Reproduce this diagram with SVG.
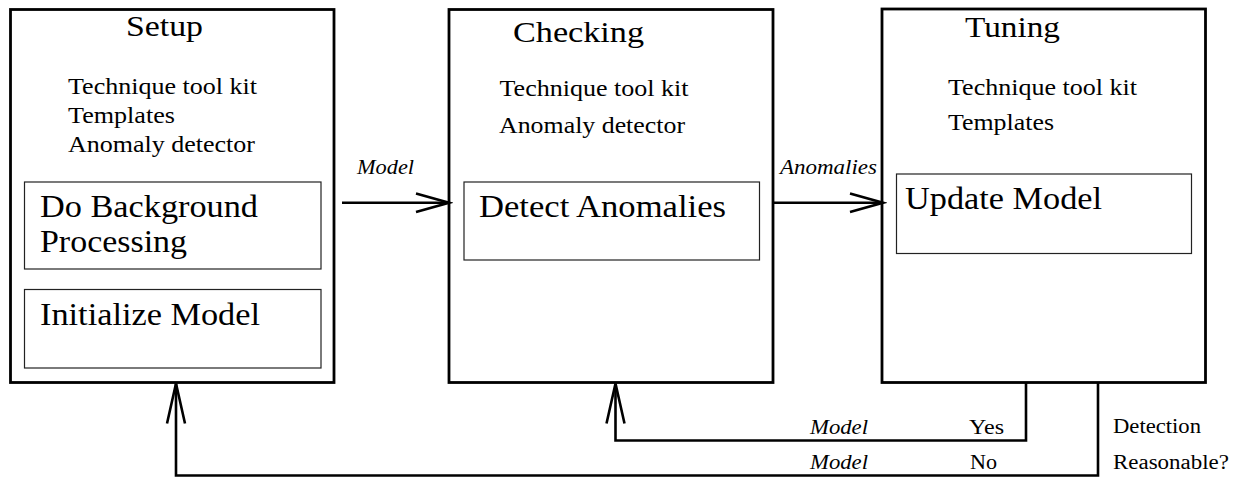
<svg xmlns="http://www.w3.org/2000/svg" width="1242" height="477" viewBox="0 0 1242 477">
  <style>
    text { font-family: 'Liberation Serif', 'Times New Roman', Times, 'DejaVu Serif', serif; fill: #000; }
    .stage { fill: #fff; stroke: #000; stroke-width: 2.8; }
    .task { fill: none; stroke: #222; stroke-width: 1.2; }
    .title { font-size: 30px; }
    .item { font-size: 23px; }
    .big { font-size: 32px; }
    .flow { font-size: 20px; font-style: italic; }
    .ans { font-size: 20px; }
    .wire { fill: none; stroke: #000; stroke-width: 2.6; }
  </style>
  <defs>
    <marker id="open-h" markerUnits="userSpaceOnUse" markerWidth="40" markerHeight="24" viewBox="-36 -12 40 24" refX="0" refY="0" orient="auto">
      <path d="M -33 -9.2 L 0 0 L -33 9.2" fill="none" stroke="#000" stroke-width="2.6"/>
    </marker>
    <marker id="open-v" markerUnits="userSpaceOnUse" markerWidth="46" markerHeight="24" viewBox="-43 -12 46 24" refX="0" refY="0" orient="auto">
      <path d="M -40 -9 L 0 0 L -40 9" fill="none" stroke="#000" stroke-width="2.6"/>
    </marker>
  </defs>

  <rect width="1242" height="477" fill="#fff"/>

  <g font-family="Liberation Serif, Times New Roman, DejaVu Serif, serif">
  <g id="setup">
    <rect class="stage" x="10.5" y="9.5" width="323.5" height="373"/>
    <text class="title" x="126" y="36" textLength="77" lengthAdjust="spacingAndGlyphs">Setup</text>
    <text class="item" x="68" y="94" textLength="189" lengthAdjust="spacingAndGlyphs">Technique tool kit</text>
    <text class="item" x="68" y="123" textLength="107" lengthAdjust="spacingAndGlyphs">Templates</text>
    <text class="item" x="68" y="152" textLength="187" lengthAdjust="spacingAndGlyphs">Anomaly detector</text>
    <rect class="task" x="24.5" y="182" width="296.5" height="87"/>
    <text class="big" x="40" y="217" textLength="218" lengthAdjust="spacingAndGlyphs">Do Background</text>
    <text class="big" x="40" y="252" textLength="147" lengthAdjust="spacingAndGlyphs">Processing</text>
    <rect class="task" x="24.5" y="289.5" width="296.5" height="78.5"/>
    <text class="big" x="40" y="325" textLength="220" lengthAdjust="spacingAndGlyphs">Initialize Model</text>
  </g>

  <g id="checking">
    <rect class="stage" x="449" y="9.5" width="324" height="373"/>
    <text class="title" x="513" y="42" textLength="131" lengthAdjust="spacingAndGlyphs">Checking</text>
    <text class="item" x="499.5" y="96" textLength="189" lengthAdjust="spacingAndGlyphs">Technique tool kit</text>
    <text class="item" x="499" y="133" textLength="186" lengthAdjust="spacingAndGlyphs">Anomaly detector</text>
    <rect class="task" x="464" y="182" width="295.5" height="78"/>
    <text class="big" x="479" y="217" textLength="247" lengthAdjust="spacingAndGlyphs">Detect Anomalies</text>
  </g>

  <g id="tuning">
    <rect class="stage" x="882" y="9" width="323.5" height="373.5"/>
    <text class="title" x="965" y="37" textLength="95" lengthAdjust="spacingAndGlyphs">Tuning</text>
    <text class="item" x="948" y="95" textLength="189" lengthAdjust="spacingAndGlyphs">Technique tool kit</text>
    <text class="item" x="948" y="130" textLength="106" lengthAdjust="spacingAndGlyphs">Templates</text>
    <rect class="task" x="896.5" y="174" width="295" height="79.5"/>
    <text class="big" x="905" y="209" textLength="197" lengthAdjust="spacingAndGlyphs">Update Model</text>
  </g>

  <g id="connectors">
    <!-- model handed from setup to checking -->
    <line class="wire" x1="342" y1="202.7" x2="449" y2="202.7" marker-end="url(#open-h)"/>
    <text class="flow" x="357" y="174" textLength="57" lengthAdjust="spacingAndGlyphs">Model</text>
    <!-- anomalies handed from checking to tuning -->
    <line class="wire" x1="773" y1="202.7" x2="883" y2="202.7" marker-end="url(#open-h)"/>
    <text class="flow" x="780" y="174" textLength="97" lengthAdjust="spacingAndGlyphs">Anomalies</text>
    <!-- "Yes" branch back into checking -->
    <polyline class="wire" points="1026,383 1026,440.5 615.5,440.5 615.5,383.5" marker-end="url(#open-v)"/>
    <text class="flow" x="810" y="434" textLength="58" lengthAdjust="spacingAndGlyphs">Model</text>
    <text class="ans" x="969" y="434" textLength="35" lengthAdjust="spacingAndGlyphs">Yes</text>
    <!-- "No" branch back into setup -->
    <polyline class="wire" points="1098,383 1098,475.5 176,475.5 176,383.5" marker-end="url(#open-v)"/>
    <text class="flow" x="810" y="469" textLength="58" lengthAdjust="spacingAndGlyphs">Model</text>
    <text class="ans" x="970" y="469" textLength="27" lengthAdjust="spacingAndGlyphs">No</text>
    <text class="ans" x="1113" y="433" textLength="88" lengthAdjust="spacingAndGlyphs">Detection</text>
    <text class="ans" x="1113" y="469" textLength="116" lengthAdjust="spacingAndGlyphs">Reasonable?</text>
  </g>
  </g>
</svg>
